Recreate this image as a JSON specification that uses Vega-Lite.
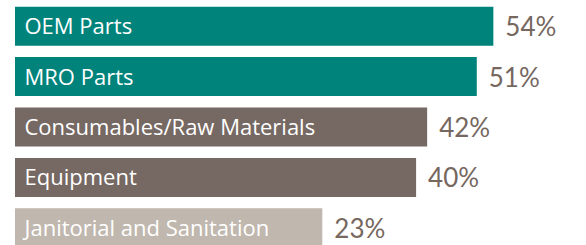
{
  "$schema": "https://vega.github.io/schema/vega-lite/v6.json",
  "autosize": {"type": "none"},
  "width": 512,
  "height": 254,
  "padding": {"left": 15, "top": 0, "right": 59, "bottom": 0},
  "background": "white",
  "config": {"view": {"stroke": null}},
  "data": {
    "values": [
      {"category": "OEM Parts", "share": 0.54},
      {"category": "MRO Parts", "share": 0.51},
      {"category": "Consumables/Raw Materials", "share": 0.42},
      {"category": "Equipment", "share": 0.40},
      {"category": "Janitorial and Sanitation", "share": 0.23}
    ]
  },
  "encoding": {
    "y": {
      "field": "category",
      "type": "nominal",
      "sort": null,
      "scale": {"paddingInner": 0.228, "paddingOuter": 0.133},
      "axis": {
        "title": null,
        "domain": false,
        "ticks": false,
        "tickSize": 0,
        "labelAlign": "left",
        "labelPadding": -9,
        "labelLimit": 0,
        "labelFont": "Open Sans",
        "labelFontSize": 22,
        "labelColor": "white",
        "labelBaseline": "middle",
        "labelOffset": 1,
        "zindex": 1
      }
    }
  },
  "layer": [
    {
      "mark": {"type": "bar"},
      "encoding": {
        "x": {
          "field": "share",
          "type": "quantitative",
          "scale": {"domain": [-0.327, 0.601], "zero": false, "nice": false},
          "axis": null
        },
        "x2": {"datum": -0.327},
        "color": {
          "field": "category",
          "type": "nominal",
          "scale": {
            "domain": ["OEM Parts", "MRO Parts", "Consumables/Raw Materials", "Equipment", "Janitorial and Sanitation"],
            "range": ["#00837b", "#00837b", "#766862", "#766862", "#c0b7ae"]
          },
          "legend": null
        }
      }
    },
    {
      "mark": {"type": "text", "align": "left", "baseline": "middle", "dx": 12, "dy": 2, "font": "Lato", "fontSize": 26, "color": "#76675f"},
      "encoding": {
        "x": {"field": "share", "type": "quantitative"},
        "text": {"field": "share", "type": "quantitative", "format": ".0%"}
      }
    }
  ]
}
